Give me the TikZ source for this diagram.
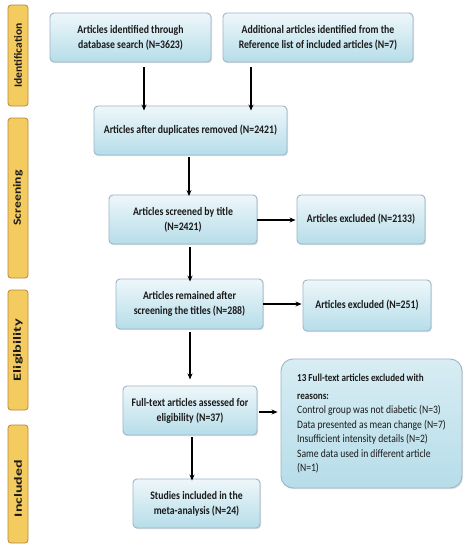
\documentclass[tikz,border=0pt]{standalone}
\usepackage{fontspec}
\usepackage{graphicx}
\setmainfont{Carlito}[FakeStretch=0.85]
\newfontfamily\labelfont{Carlito}
\newfontfamily\reasonfont{Carlito}[FakeStretch=0.85]
\newfontfamily\reasonbold{Carlito Bold}[FakeStretch=0.85]
\usetikzlibrary{arrows.meta,shadows}
\definecolor{boxtop}{HTML}{EEF7FA}
\definecolor{boxbot}{HTML}{B6DDE9}
\definecolor{boxline}{HTML}{9DB5C8}
\definecolor{barfill}{HTML}{F4CB5E}
\definecolor{barline}{HTML}{B7873A}
\definecolor{txt}{HTML}{1A1A1A}
\tikzset{
  flowbox/.style={draw=boxline, line width=0.9pt, rounded corners=4pt,
    top color=boxtop, bottom color=boxbot, align=center, text=txt,
    font=\fontsize{11.5}{15}\selectfont\bfseries, inner sep=2pt,
    drop shadow={shadow xshift=1pt, shadow yshift=-1.2pt, opacity=0.25}},
  reasonbox/.style={draw=boxline, line width=0.9pt, rounded corners=12pt,
    top color=boxtop!60!boxbot, bottom color=boxbot, align=left, text=txt,
    font=\reasonfont\fontsize{11.3}{14.5}\selectfont, inner sep=2pt,
    drop shadow={shadow xshift=1pt, shadow yshift=-1.2pt, opacity=0.25}},
  stagebar/.style={draw=barline, line width=0.8pt, fill=barfill, rounded corners=3pt,
    minimum width=20pt, inner sep=0pt},
  stagelabel/.style={rotate=90, font=\labelfont\fontsize{11}{13}\selectfont\bfseries, text=txt, inner sep=0pt},
  arr/.style={-{Stealth[length=6pt,width=5pt]}, line width=1.1pt, draw=black}
}
\begin{document}
\begin{tikzpicture}[x=1pt,y=-1pt]
\useasboundingbox[fill=white] (0,0) rectangle (470,550);
% stage bars
\node[stagebar, minimum height=101pt] (s1) at (18,55.5) {};
\node[stagelabel] (l1) at (s1.center) {\resizebox{64pt}{\height}{Identification}};
\node[stagebar, minimum height=160pt] (s2) at (18,198) {};
\node[stagelabel] (l2) at (s2.center) {\resizebox{55pt}{\height}{Screening}};
\node[stagebar, minimum height=120pt] (s3) at (18,350) {};
\node[stagelabel] (l3) at (s3.center) {\resizebox{62pt}{\height}{Eligibility}};
\node[stagebar, minimum height=118pt] (s4) at (18,484) {};
\node[stagelabel] (l4) at (18,488.5) {\resizebox{57pt}{\height}{Included}};
% boxes
\node[flowbox, minimum width=161pt, minimum height=49pt] (b1) at (130.5,37.5)
  {Articles identified through\\database search (N=3623)};
\node[flowbox, minimum width=190pt, minimum height=49pt] (b2) at (318,37.5)
  {Additional articles identified from the\\Reference list of included articles (N=7)};
\node[flowbox, minimum width=193pt, minimum height=49pt] (b3) at (190.5,130.5)
  {Articles after duplicates removed (N=2421)};
\node[flowbox, minimum width=148pt, minimum height=49pt] (b4) at (183,219.5)
  {Articles screened by title\\(N=2421)};
\node[flowbox, minimum width=128pt, minimum height=49pt] (e1) at (361,219.5)
  {Articles excluded (N=2133)};
\node[flowbox, minimum width=147pt, minimum height=50pt] (b5) at (189.5,304)
  {Articles remained after\\screening the titles (N=288)};
\node[flowbox, minimum width=128pt, minimum height=51pt] (e2) at (367,305.5)
  {Articles excluded (N=251)};
\node[flowbox, minimum width=134pt, minimum height=49pt] (b6) at (190,410.5)
  {Full-text articles assessed for\\eligibility (N=37)};
\node[reasonbox, minimum width=181pt, minimum height=129pt] (e3) at (371.5,423.5)
  {{\reasonbold\fontsize{10.7}{14.5}\selectfont 13 Full-text articles excluded with}\\[3.5pt]
   {\reasonbold\fontsize{10.7}{14.5}\selectfont reasons:}\\
   Control group was not diabetic (N=3)\\
   Data presented as mean change (N=7)\\
   Insufficient intensity details (N=2)\\
   Same data used in different article\\
   (N=1)};
\node[flowbox, minimum width=127pt, minimum height=49pt] (b7) at (196.5,503.5)
  {Studies included in the\\meta-analysis (N=24)};
% arrows
\draw[arr] ([xshift=13.5pt,yshift=-5pt]b1.south) -- ([xshift=13.5pt,yshift=-5pt]b1.south |- b3.north);
\draw[arr] ([xshift=-67pt,yshift=-5pt]b2.south) -- ([xshift=-67pt,yshift=-5pt]b2.south |- b3.north);
\draw[arr] ([xshift=-1.5pt,yshift=-1.5pt]b3.south) -- ([xshift=-1.5pt,yshift=-1.5pt]b3.south |- b4.north);
\draw[arr] ([xshift=7pt,yshift=-3pt]b4.south) -- ([xshift=7pt,yshift=-3pt]b4.south |- b5.north);
\draw[arr] ([xshift=0.5pt,yshift=-3pt]b5.south) -- ([xshift=0.5pt,yshift=-50pt]b5.south);
\draw[arr] ([xshift=2pt,yshift=-2pt]b6.south) -- ([xshift=2pt,yshift=-2pt]b6.south |- b7.north);
\draw[arr] ([yshift=-0.5pt]b4.east) -- ([xshift=-1pt,yshift=-0.5pt]e1.west |- b4.east);
\draw[arr] (b5.east) -- ([xshift=-1pt]e2.west |- b5.east);
\draw[arr] ([xshift=2pt,yshift=-1.5pt]b6.east) -- ([xshift=-3pt,yshift=-1.5pt]e3.west |- b6.east);
\end{tikzpicture}
\end{document}
